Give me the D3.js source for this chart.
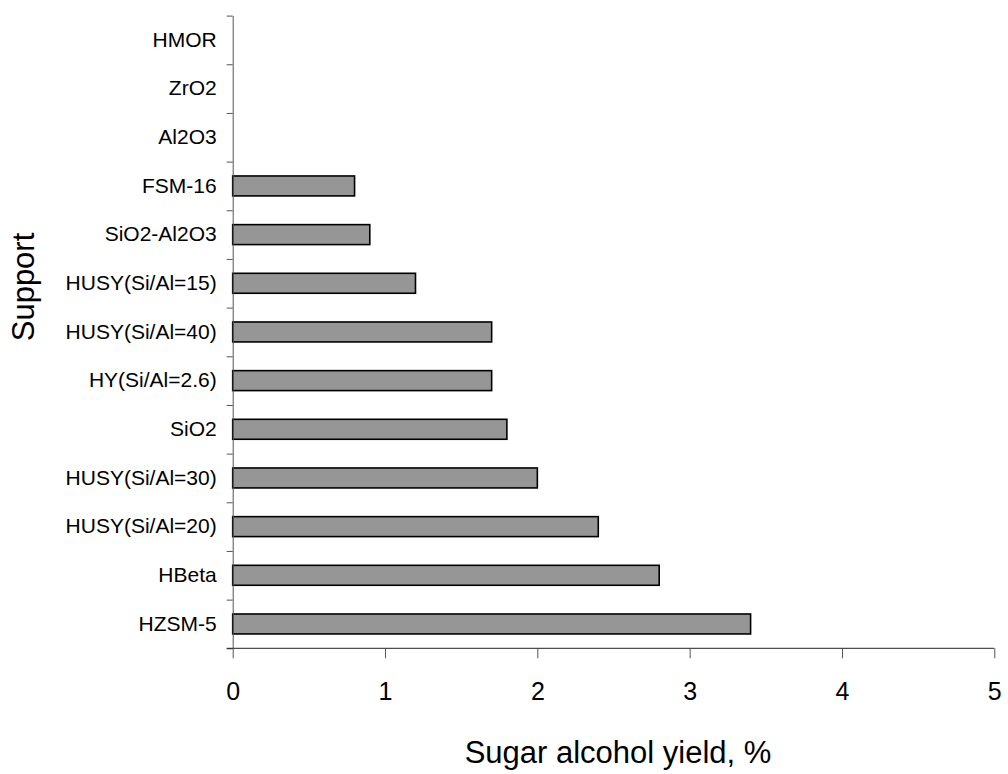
<!DOCTYPE html>
<html>
<head>
<meta charset="utf-8">
<script src="https://cdn.jsdelivr.net/npm/d3@7/dist/d3.min.js"></script>
<style>
  html, body { margin: 0; padding: 0; background: #fff; }
  svg { display: block; }
  text { font-family: "Liberation Sans", Arial, sans-serif; fill: #000; }
</style>
</head>
<body>
<svg id="chart" width="1008" height="774"></svg>
<script>
// Supports, listed top to bottom
const supports = [
  "HMOR", "ZrO2", "Al2O3", "FSM-16", "SiO2-Al2O3",
  "HUSY(Si/Al=15)", "HUSY(Si/Al=40)", "HY(Si/Al=2.6)", "SiO2",
  "HUSY(Si/Al=30)", "HUSY(Si/Al=20)", "HBeta", "HZSM-5"
];
// Sugar alcohol yield (%) for each support
const yields = [0, 0, 0, 0.8, 0.9, 1.2, 1.7, 1.7, 1.8, 2.0, 2.4, 2.8, 3.4];
const xTicks = [0, 1, 2, 3, 4, 5];
const xTitle = "Sugar alcohol yield, %";
const yTitle = "Support";

const svg = d3.select("#chart");
const plotLeft = 232.7, plotRight = 994.3, plotTop = 15.6, plotBottom = 648.3;

const x = d3.scaleLinear().domain([0, 5]).range([plotLeft, plotRight]);
const y = d3.scaleBand().domain(supports).range([plotTop, plotBottom]).padding(0);
// band boundaries for the category separators
const yEdge = d3.scaleLinear().domain([0, supports.length]).range([plotTop, plotBottom]);

const barFrac = 0.41;
const bh = y.bandwidth() * barFrac;

// bars
svg.append("g").selectAll("rect")
  .data(supports.map((s, i) => ({ s, v: yields[i] })).filter(d => d.v > 0))
  .join("rect")
  .attr("x", x(0))
  .attr("y", d => y(d.s) + (y.bandwidth() - bh) / 2)
  .attr("width", d => x(d.v) - x(0))
  .attr("height", bh)
  .attr("fill", "#969696")
  .attr("stroke", "#000")
  .attr("stroke-width", 1.6);

// category separator ticks on the vertical axis
const yTickAxis = svg.append("g")
  .attr("transform", `translate(${plotLeft},0)`)
  .call(d3.axisLeft(yEdge).tickValues(d3.range(supports.length + 1))
    .tickSize(6).tickFormat(""));
yTickAxis.select(".domain").remove();
yTickAxis.selectAll("line").attr("stroke", "#555");

// category labels
const yLab = svg.append("g")
  .attr("transform", `translate(${plotLeft},0)`)
  .call(d3.axisLeft(y).tickSize(0).tickPadding(16));
yLab.select(".domain").attr("stroke", "#555");
yLab.selectAll("text")
  .style("font-size", "21px")
  .style("font-family", "'Liberation Sans', Arial, sans-serif");

// horizontal axis
const xAxis = svg.append("g")
  .attr("transform", `translate(0,${plotBottom})`)
  .call(d3.axisBottom(x).tickValues(xTicks).tickSize(10).tickPadding(24)
    .tickFormat(d3.format("d")));
xAxis.select(".domain").attr("stroke", "#222").attr("d", `M${plotLeft - 6},0H${plotRight}`);
xAxis.selectAll("line").attr("stroke", "#555");
xAxis.selectAll("text")
  .style("font-size", "25px")
  .style("font-family", "'Liberation Sans', Arial, sans-serif");

// axis titles
svg.append("text")
  .attr("x", 618).attr("y", 763)
  .attr("text-anchor", "middle")
  .style("font-size", "31px")
  .text(xTitle);

svg.append("text")
  .attr("transform", "translate(34,287) rotate(-90)")
  .attr("text-anchor", "middle")
  .style("font-size", "31px")
  .text(yTitle);
</script>
</body>
</html>
